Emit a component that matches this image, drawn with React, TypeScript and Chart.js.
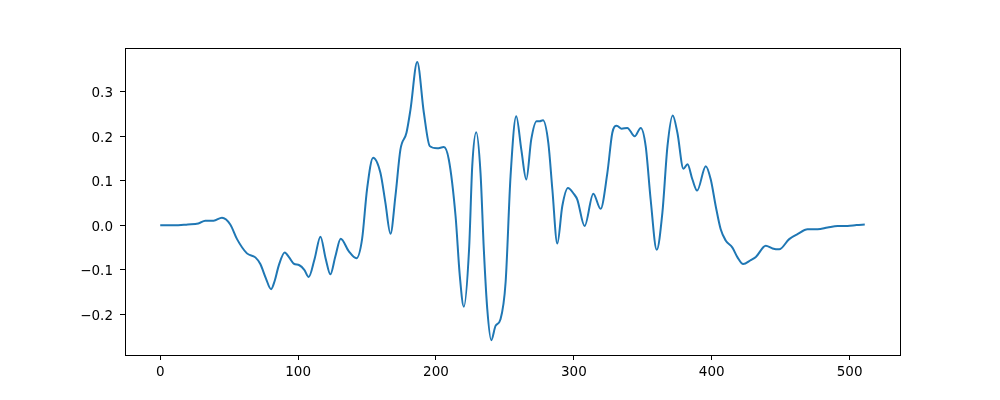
import React, { useEffect, useRef } from "react";
import { Chart, registerables } from "chart.js";

Chart.register(...registerables);

const xValues = [
  0, 10, 20, 27.6, 32.7, 38.7, 44.8, 50.8, 55.7, 62.9, 69, 72.6, 76.5, 80.4, 83, 85.9, 90.3, 93.5, 96.8, 100.9, 104.5, 107.7,
  112, 116.2, 120, 123.4, 127, 130.9, 136.7, 142.3, 146.4, 150, 154.4, 159.7, 163.3, 167, 170.6, 174.2, 178.6,
  181.5, 186.4, 191.2, 195.5, 200.9, 205.7, 209.3, 214.2, 217.3, 220.2, 224, 226.3, 229.2, 232.3, 234.7,
  237.2, 240.1, 243.2, 246.8, 250.5, 254.1, 258.2, 261.9, 265.5, 269.1, 273, 275.2, 277.6, 281.5, 284.4,
  288, 291.6, 295.7, 300.1, 302.5, 307.8, 314.1, 319.4, 324.3, 327.9, 331.1, 334.7, 338.8, 344.1, 348.5,
  352.1, 355.7, 360.1, 364.2, 367.9, 371.7, 375.1, 379.5, 382.4, 386, 389.4, 395.7, 399.3, 402.9, 406.5,
  410.1, 415, 418.7, 422.8, 428.3, 432, 439.2, 444.1, 448.9, 456.2, 462.2, 469.5, 476.8, 484, 491.3,
  498.5, 505, 511,
];

const yValues = [
  0, 0, 0.002, 0.004, 0.0105, 0.0105, 0.017, 0.002, -0.031, -0.063, -0.072, -0.087, -0.118, -0.1435, -0.125, -0.091, -0.061, -0.072, -0.086, -0.0897, -0.1, -0.116,
  -0.075, -0.0254, -0.075, -0.11, -0.07, -0.03, -0.058, -0.074, -0.031, 0.081, 0.152, 0.118, 0.051, -0.019, 0.066, 0.17, 0.208,
  0.26, 0.367, 0.253, 0.178, 0.173, 0.176, 0.148, 0.021, -0.114, -0.183, -0.054, 0.133, 0.209, 0.118, -0.054,
  -0.188, -0.258, -0.226, -0.211, -0.128, 0.111, 0.245, 0.17, 0.103, 0.193, 0.234, 0.234, 0.236, 0.185, 0.081,
  -0.041, 0.043, 0.084, 0.07, 0.058, -0.0015, 0.071, 0.037, 0.118, 0.208, 0.224, 0.217, 0.219, 0.2, 0.219,
  0.178, 0.058, -0.055, 0.028, 0.178, 0.247, 0.208, 0.127, 0.137, 0.103, 0.078, 0.133, 0.103, 0.043, -0.009,
  -0.034, -0.05, -0.072, -0.087, -0.078, -0.071, -0.046, -0.052, -0.054, -0.031, -0.02, -0.009, -0.009, -0.005, -0.0015,
  -0.0015, 0.0005, 0.0016,
];

const xTicks = [0, 100, 200, 300, 400, 500];
const yTicks = [-0.2, -0.1, 0.0, 0.1, 0.2, 0.3];

const framePlugin = {
  id: "frame",
  afterDraw(chart: any) {
    const { ctx, chartArea } = chart;
    ctx.save();
    ctx.strokeStyle = "#000";
    ctx.lineWidth = 1;
    ctx.strokeRect(
      Math.round(chartArea.left) + 0.5,
      Math.round(chartArea.top) + 0.5,
      Math.round(chartArea.right - chartArea.left),
      Math.round(chartArea.bottom - chartArea.top)
    );
    ctx.restore();
  },
};

export default function App() {
  const ref = useRef<HTMLCanvasElement | null>(null);
  useEffect(() => {
    document.body.style.margin = "0";
    const canvas = ref.current;
    if (!canvas) return;
    const font = { family: "'DejaVu Sans', sans-serif", size: 13.5 };
    const chart = new Chart(canvas, {
      type: "line",
      data: {
        datasets: [
          {
            data: xValues.map((x, i) => ({ x, y: yValues[i] })),
            borderColor: "#1f77b4",
            borderWidth: 2,
            pointRadius: 0,
            fill: false,
            cubicInterpolationMode: "monotone",
          },
        ],
      },
      options: {
        animation: false,
        responsive: false,
        maintainAspectRatio: false,
        layout: { padding: { left: 65, top: 48, right: 100, bottom: 15 } },
        plugins: { legend: { display: false }, tooltip: { enabled: false } },
        scales: {
          x: {
            type: "linear",
            min: -25.55,
            max: 536.55,
            afterBuildTicks: (scale: any) => {
              scale.ticks = xTicks.map((v) => ({ value: v }));
            },
            afterFit: (scale: any) => {
              scale.height = 30;
            },
            grid: { drawOnChartArea: false, drawTicks: true, tickLength: 5, tickColor: "#000" },
            border: { display: true, color: "#000", width: 1 },
            ticks: { color: "#000", font, padding: 4, maxRotation: 0, callback: (v: any) => String(v) },
          },
          y: {
            type: "linear",
            min: -0.2914,
            max: 0.3985,
            afterBuildTicks: (scale: any) => {
              scale.ticks = yTicks.map((v) => ({ value: v }));
            },
            afterFit: (scale: any) => {
              scale.width = 60;
            },
            grid: { drawOnChartArea: false, drawTicks: true, tickLength: 5, tickColor: "#000" },
            border: { display: true, color: "#000", width: 1 },
            ticks: {
              color: "#000",
              font,
              padding: 7,
              labelOffset: 2,
              callback: (v: any) => {
                const n = Number(v);
                const s = Math.abs(n).toFixed(1);
                return n < -1e-9 ? "\u2212" + s : s;
              },
            },
          },
        },
      },
      plugins: [framePlugin],
    } as any);
    return () => chart.destroy();
  }, []);
  return (
    <div style={{ position: "absolute", left: 0, top: 0, width: 1000, height: 400, background: "#fff" }}>
      <canvas ref={ref} width={1000} height={400} style={{ width: 1000, height: 400, display: "block" }} />
    </div>
  );
}
